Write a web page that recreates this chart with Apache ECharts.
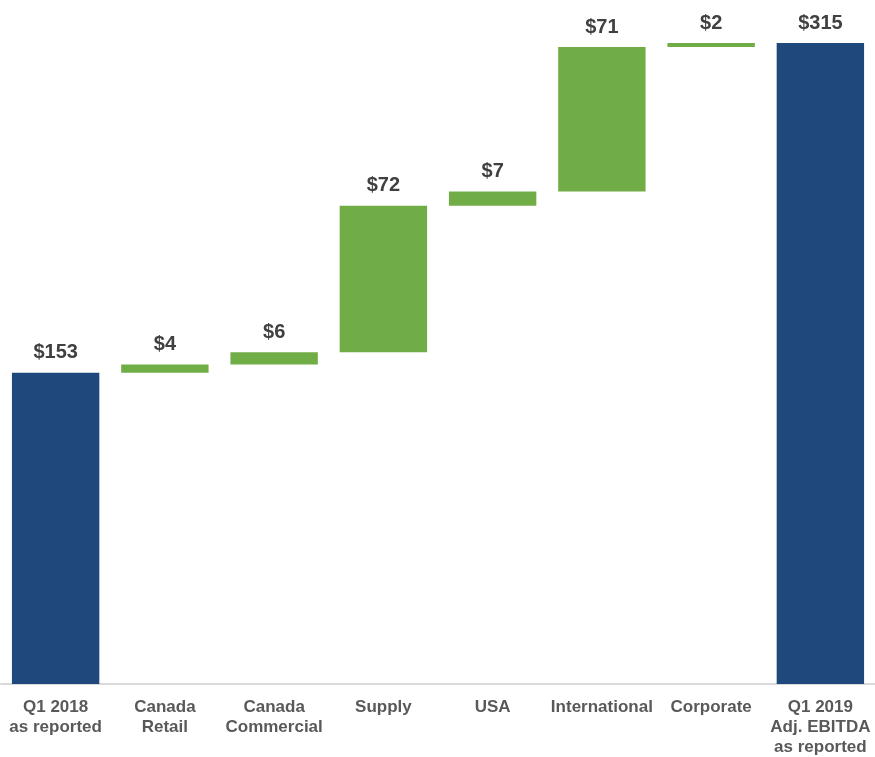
<!DOCTYPE html>
<html>
<head>
<meta charset="utf-8">
<script src="https://cdn.jsdelivr.net/npm/echarts@6/dist/echarts.min.js"></script>
<style>
html, body { margin: 0; padding: 0; background: #fff; }
#chart { width: 875px; height: 757px; }
</style>
</head>
<body>
<div id="chart"></div>
<script>
// waterfall: Q1 2018 -> Q1 2019 adj. EBITDA bridge
const categories = ['Q1 2018\nas reported', 'Canada\nRetail', 'Canada\nCommercial', 'Supply', 'USA', 'International', 'Corporate', 'Q1 2019\nAdj. EBITDA\nas reported']
const amounts = [153, 4, 6, 72, 7, 71, 2, 315]
const isTotal = [true, false, false, false, false, false, false, true]

// invisible base under each step, computed from running sum
const bases = []
let running = 0
amounts.forEach((v, i) => {
	if (isTotal[i]) {
		bases.push(0)
		running = v
	} else {
		bases.push(running)
		running += v
	}
})

const chart = echarts.init(document.getElementById('chart'))

const option = {
	animation: false,
	grid: {
		left: 1,
		right: -2,
		top: 43,
		bottom: 70,
		containLabel: false
	},
	xAxis: {
		type: 'category',
		data: categories,
		axisTick: { show: false },
		axisLine: {
			lineStyle: { color: '#d9d9d9', width: 2 }
		},
		axisLabel: {
			interval: 0,
			margin: 13,
			color: '#595959',
			fontFamily: 'Liberation Sans, Arial, sans-serif',
			fontWeight: 'bold',
			fontSize: 17,
			lineHeight: 20
		}
	},
	yAxis: {
		type: 'value',
		min: 0,
		max: 315,
		show: false,
		splitLine: { show: false }
	},
	series: [
		{
			name: 'base',
			type: 'bar',
			stack: 'wf',
			barWidth: '80%',
			itemStyle: { color: 'transparent' },
			silent: true,
			data: bases
		},
		{
			name: 'value',
			type: 'bar',
			stack: 'wf',
			barWidth: '80%',
			data: amounts.map((v, i) => ({
				value: v,
				itemStyle: { color: isTotal[i] ? '#1f497d' : '#70ad47' }
			})),
			label: {
				show: true,
				position: 'top',
				distance: 10,
				formatter: p => '$' + p.value,
				color: '#404040',
				fontFamily: 'Liberation Sans, Arial, sans-serif',
				fontWeight: 'bold',
				fontSize: 20
			}
		}
	]
}
chart.setOption(option)
</script>
</body>
</html>
